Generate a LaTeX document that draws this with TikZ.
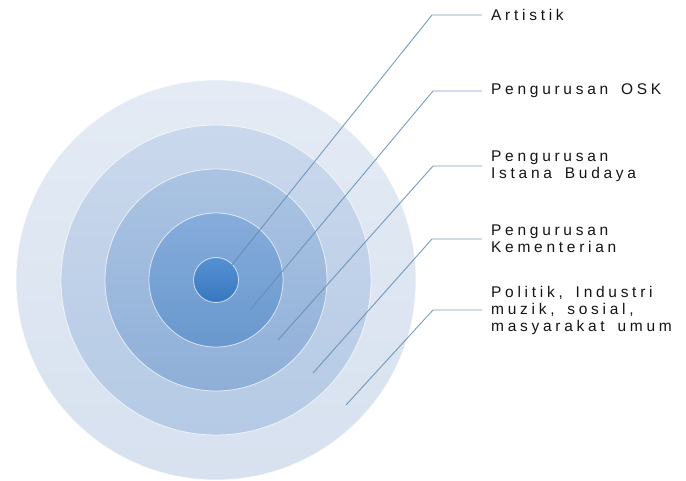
\documentclass[tikz,border=0pt]{standalone}
\usepackage{fontspec}
\setmainfont{Liberation Sans}
\newfontfamily\lblfont{Liberation Sans}[LetterSpace=24,WordSpace=1.6]
\definecolor{ringA1}{HTML}{E4EBF5}
\definecolor{ringA2}{HTML}{D7E1EF}
\definecolor{ringB1}{HTML}{CAD8EC}
\definecolor{ringB2}{HTML}{B5CAE5}
\definecolor{ringC1}{HTML}{ABC4E3}
\definecolor{ringC2}{HTML}{8FAFD8}
\definecolor{ringD1}{HTML}{86ACDB}
\definecolor{ringD2}{HTML}{6898CE}
\definecolor{ringE1}{HTML}{5692D1}
\definecolor{ringE2}{HTML}{3877C0}
\definecolor{leader}{HTML}{5F8CB5}
\definecolor{txt}{HTML}{141414}
\begin{document}
\begin{tikzpicture}[x=1pt,y=-1pt,
  ring/.style={draw=white,draw opacity=0.7,line width=0.8pt},
  leaderline/.style={draw=leader,draw opacity=0.85,line width=0.9pt},
  lbl/.style={anchor=west,inner xsep=9pt,inner ysep=0pt,align=left,text=txt,
    font=\lblfont\fontsize{15.5}{17}\selectfont}]
\useasboundingbox (0,0) rectangle (686,481);
\coordinate (c) at (216,280);
\shade[ring,top color=ringA1,bottom color=ringA2] (c) circle (200);
\shade[ring,top color=ringB1,bottom color=ringB2] (c) circle (155);
\shade[ring,top color=ringC1,bottom color=ringC2] (c) circle (111);
\shade[ring,top color=ringD1,bottom color=ringD2] (c) circle (67);
\shade[ring,top color=ringE1,bottom color=ringE2] (c) circle (22.5);

\node[lbl] (t1) at (482,15) {Artistik};
\node[lbl] (t2) at (482,91) {Pengurusan OSK};
\node[lbl] (t3) at (482,166) {Pengurusan\\Istana Budaya};
\node[lbl] (t4) at (482,239) {Pengurusan\\Kementerian};
\node[lbl] (t5) at (482,310) {Politik, Industri\\muzik, sosial,\\masyarakat umum};

\coordinate (s1) at (231,266);
\coordinate (k1) at (432,15);
\coordinate (s2) at (250,310);
\coordinate (k2) at (433,91);
\coordinate (s3) at (278,340);
\coordinate (k3) at (433,166);
\coordinate (s4) at (313,373);
\coordinate (k4) at (432,239);
\coordinate (s5) at (346,405);
\coordinate (k5) at (433,310);

\draw[leaderline] (s1) -- (k1) -- (t1.west);
\draw[leaderline] (s2) -- (k2) -- (t2.west);
\draw[leaderline] (s3) -- (k3) -- (t3.west);
\draw[leaderline] (s4) -- (k4) -- (t4.west);
\draw[leaderline] (s5) -- (k5) -- (t5.west);
\end{tikzpicture}
\end{document}
